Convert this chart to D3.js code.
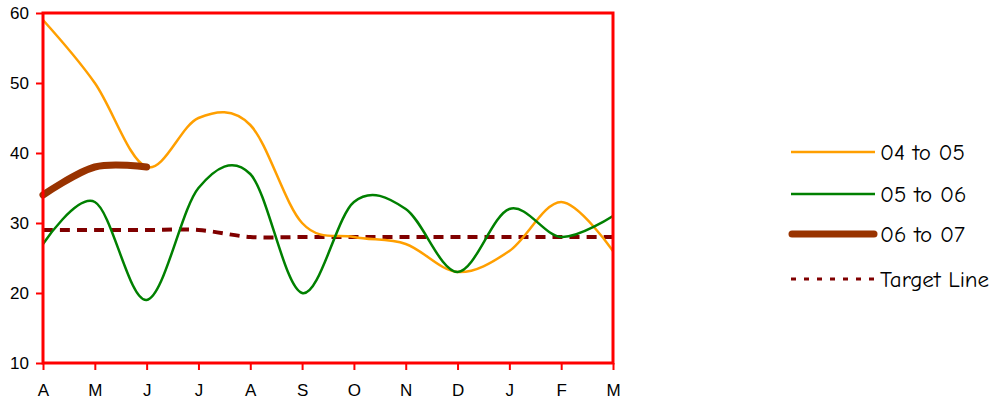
<!DOCTYPE html>
<html>
<head>
<meta charset="utf-8">
<script src="https://cdn.jsdelivr.net/npm/d3@7"></script>
<style>
  html, body { margin: 0; padding: 0; background: #fff; }
  svg { display: block; }
  .axis .tick text {
    font-family: "Liberation Sans", Arial, Helvetica, sans-serif;
    font-size: 17px;
    fill: #000;
  }
  .legend text {
    font-family: "Comic Sans MS", "Comic Neue", "DejaVu Sans", sans-serif;
    font-size: 23px;
    fill: #000;
  }
</style>
</head>
<body>
<svg id="chart" width="1000" height="403"></svg>
<script>
// Months of the financial year, April to March
const months = ["A", "M", "J", "J", "A", "S", "O", "N", "D", "J", "F", "M"];
const yTicks = [10, 20, 30, 40, 50, 60];

// Monthly values per year
const y0405 = [59, 50, 38, 45, 44, 30, 28, 27, 23, 26, 33, 26];
const y0506 = [27, 33, 19, 35, 37, 20, 33, 32, 23, 32, 28, 31];
const y0607 = [34, 38, 38];
const target = [29, 29, 29, 29, 28, 28, 28, 28, 28, 28, 28, 28];

const seriesNames = ["04 to 05", "05 to 06", "06 to 07", "Target Line"];

const svg = d3.select("#chart");
const margin = { left: 43, top: 13, right: 387, bottom: 40 };
const W = 1000, H = 403;
const x0 = margin.left, x1 = W - margin.right;
const yTop = margin.top, yBot = H - margin.bottom;

const x = d3.scalePoint().domain(d3.range(months.length)).range([x0, x1]);
const y = d3.scaleLinear().domain([10, 60]).range([yBot, yTop]);

const red = "#ff0000";

// Smoothed series lines (uniform Catmull-Rom)
const line = d3.line()
  .x((d, i) => x(i))
  .y(d => y(d))
  .curve(d3.curveCardinal.tension(0));

const styles = [
  { data: y0405, color: "#ff9f00", width: 2.5, dash: null, cap: "butt" },
  { data: y0506, color: "#008000", width: 2.5, dash: null, cap: "butt" },
  { data: y0607, color: "#993300", width: 7, dash: null, cap: "round" },
  { data: target, color: "#800000", width: 4, dash: "10,7", cap: "butt" }
];

const plot = svg.append("g");
// target first so the yearly lines sit on top
[3, 0, 1, 2].forEach(k => {
  const s = styles[k];
  plot.append("path")
    .attr("d", line(s.data))
    .attr("fill", "none")
    .attr("stroke", s.color)
    .attr("stroke-width", s.width)
    .attr("stroke-linecap", s.cap)
    .attr("stroke-linejoin", "round")
    .attr("stroke-dasharray", s.dash);
});

// Frame around the plot area
svg.append("rect")
  .attr("x", x0).attr("y", yTop)
  .attr("width", x1 - x0).attr("height", yBot - yTop)
  .attr("fill", "none").attr("stroke", red).attr("stroke-width", 3);

// Y axis
const yAxis = svg.append("g")
  .attr("class", "axis")
  .attr("transform", `translate(${x0},0)`)
  .call(d3.axisLeft(y).tickValues(yTicks).tickSize(7).tickPadding(7));
yAxis.select(".domain").remove();
yAxis.selectAll(".tick line").attr("stroke", red).attr("stroke-width", 2);

// X axis
const xAxis = svg.append("g")
  .attr("class", "axis")
  .attr("transform", `translate(0,${yBot})`)
  .call(d3.axisBottom(x).tickFormat(i => months[i]).tickSize(7).tickPadding(14));
xAxis.select(".domain").remove();
xAxis.selectAll(".tick line").attr("stroke", red).attr("stroke-width", 2);

// Legend
const legendRows = [152, 194, 234, 279];
const legend = svg.append("g").attr("class", "legend");
seriesNames.forEach((name, k) => {
  const s = styles[k];
  const ly = legendRows[k];
  legend.append("line")
    .attr("x1", k === 2 ? 792 : 791).attr("x2", k === 2 ? 874 : 875)
    .attr("y1", ly).attr("y2", ly)
    .attr("stroke", s.color)
    .attr("stroke-width", k === 3 ? 3 : s.width)
    .attr("stroke-linecap", s.cap)
    .attr("stroke-dasharray", k === 3 ? "5,8" : null);
  legend.append("text")
    .attr("x", 880).attr("y", ly)
    .attr("dy", "0.36em")
    .text(name);
});
</script>
</body>
</html>
